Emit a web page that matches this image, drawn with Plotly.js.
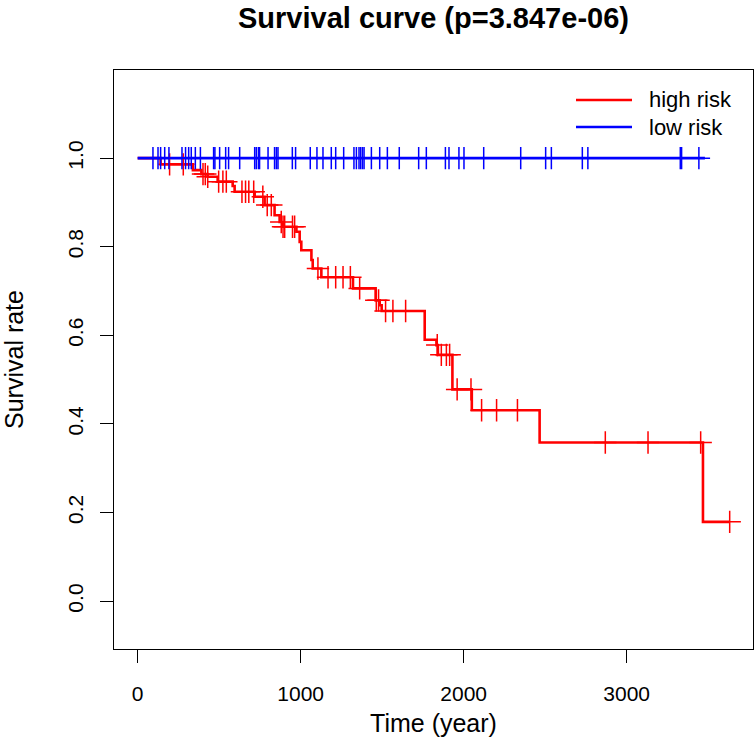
<!DOCTYPE html>
<html>
<head>
<meta charset="utf-8">
<script src="https://cdn.plot.ly/plotly-3.0.1.min.js"></script>
<style>html,body{margin:0;padding:0;background:#fff;}#chart{width:755px;height:742px;}</style>
</head>
<body>
<div id="chart"></div>
<script>
// ---- data ----
const highTimes = [0,141,339,391,429,491,583,595,718,779,840,871,890,974,994,1004,1066,1074,1127,1321,1460,1485,1497,1761,1833,1842,1931,2050,2466,3468,3632];
const highSurv  = [1,0.986,0.973,0.964,0.958,0.947,0.937,0.924,0.913,0.894,0.871,0.856,0.845,0.834,0.811,0.792,0.770,0.751,0.731,0.706,0.679,0.668,0.655,0.590,0.578,0.556,0.478,0.431,0.358,0.179,0.179];
const highCensor = [196,280,401,415,430,497,523,544,640,662,682,712,768,795,820,881,892,902,950,963,1106,1168,1215,1260,1305,1362,1464,1478,1521,1566,1644,1838,1863,1894,1914,1960,2045,2110,2202,2330,2869,3131,3454,3632];

const lowTimes = [0,3480];
const lowSurv  = [1,1];
const lowCensor = [94,125,141,166,192,272,294,313,329,354,385,466,474,503,540,558,626,718,728,741,748,800,840,851,861,949,969,1059,1100,1137,1188,1215,1264,1327,1342,1358,1368,1379,1389,1434,1485,1532,1605,1724,1771,1888,1910,1971,2002,2123,2350,2503,2538,2728,2762,3329,3337,3443];

const seriesNames = ["high risk","low risk"];
const xTicks = [0,1000,2000,3000];
const yTicks = [0,0.2,0.4,0.6,0.8,1.0];

// step-function lookup for censor marks
function stepAt(times, surv, t){
  let v = surv[0];
  for (let i=0;i<times.length;i++){ if (times[i] <= t) v = surv[i]; else break; }
  return v;
}

const RED = "#FF0000", BLUE = "#0000FF";
const FONT = "Liberation Sans, Arial, Helvetica, sans-serif";

const traces = [
  {x: highTimes, y: highSurv, mode:"lines", line:{shape:"hv", color:RED, width:2.6}, showlegend:false, hoverinfo:"skip"},
  {x: lowTimes, y: lowSurv, mode:"lines", line:{shape:"hv", color:BLUE, width:2.6}, showlegend:false, hoverinfo:"skip"},
  {x: highCensor, y: highCensor.map(t=>stepAt(highTimes,highSurv,t)), mode:"markers",
   marker:{symbol:"cross-thin", size:16, color:RED, line:{color:RED, width:1.5}}, showlegend:false, hoverinfo:"skip"},
  {x: lowCensor, y: lowCensor.map(t=>stepAt(lowTimes,lowSurv,t)), mode:"markers",
   marker:{symbol:"cross-thin", size:16, color:BLUE, line:{color:BLUE, width:1.5}}, showlegend:false, hoverinfo:"skip"}
];

// manual legend (pixel layout converted to paper coordinates)
const W=755, H=742, ML=114, MR=2, MT=70, MB=93;
const PW = W-ML-MR, PH = H-MT-MB;
const px = v => (v-ML)/PW;
const py = v => (H-MB-v)/PH;
const legendColors = [RED, BLUE];
const shapes = [], annotations = [];
seriesNames.forEach((name,i)=>{
  const yy = 100 + i*27;
  shapes.push({type:"line", xref:"paper", yref:"paper", x0:px(576), x1:px(632), y0:py(yy), y1:py(yy), line:{color:legendColors[i], width:2.6}});
  annotations.push({xref:"paper", yref:"paper", x:px(647), y:py(yy), xanchor:"left", yanchor:"middle", text:name, showarrow:false, font:{family:FONT, size:22, color:"#000"}});
});

const layout = {
  width:W, height:H,
  margin:{l:ML, r:MR, t:MT, b:MB, pad:0},
  paper_bgcolor:"#fff", plot_bgcolor:"#fff",
  title:{text:"<b>Survival curve (p=3.847e-06)</b>", x:0.5, xref:"paper", y:1-18/H, yanchor:"middle", font:{family:FONT, size:29, color:"#000"}},
  xaxis:{range:[-145,3775], tickvals:xTicks, ticktext:xTicks.map(String), ticks:"outside", ticklen:13, tickwidth:1, tickcolor:"#000",
         ticklabelstandoff:13,
         showgrid:false, zeroline:false, showline:true, mirror:true, linecolor:"#000", linewidth:1,
         tickfont:{family:FONT, size:21, color:"#000"},
         title:{text:"Time (year)", font:{family:FONT, size:25, color:"#000"}, standoff:10}},
  yaxis:{range:[-0.108,1.199], tickvals:yTicks, ticktext:yTicks.map(v=>v.toFixed(1)), ticks:"outside", ticklen:13, tickwidth:1, tickcolor:"#000",
         ticklabelstandoff:9,
         tickangle:-90, showgrid:false, zeroline:false, showline:true, mirror:true, linecolor:"#000", linewidth:1,
         tickfont:{family:FONT, size:21, color:"#000"},
         title:{text:"Survival rate", font:{family:FONT, size:25, color:"#000"}, standoff:32}},
  shapes:shapes, annotations:annotations, showlegend:false
};

Plotly.newPlot("chart", traces, layout, {staticPlot:true, displayModeBar:false});
</script>
</body>
</html>
